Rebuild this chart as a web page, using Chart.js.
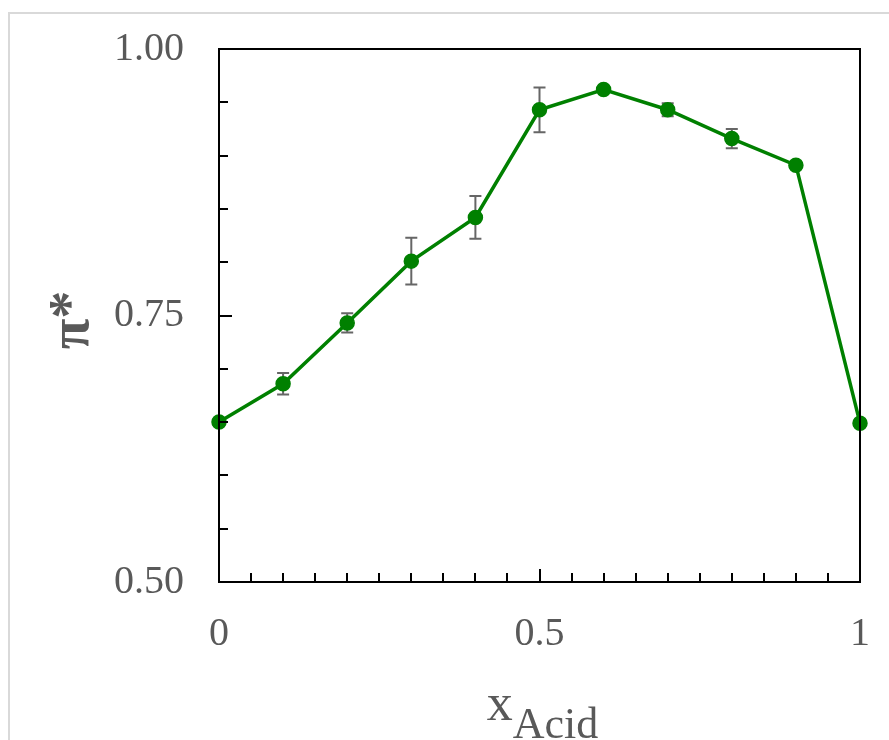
<!DOCTYPE html>
<html>
<head>
<meta charset="utf-8">
<title>pi* vs x Acid</title>
<script src="https://cdn.jsdelivr.net/npm/chart.js@4.4.0/dist/chart.umd.min.js"></script>
<style>
  html, body { margin: 0; padding: 0; background: #fff; }
  #wrap { position: relative; width: 889px; height: 740px; overflow: hidden; }
  #frame { position: absolute; left: 8px; top: 12px; width: 900px; height: 800px;
           border-left: 2px solid #d9d9d9; border-top: 2px solid #d9d9d9; }
  #chart { position: absolute; left: 0; top: 0; }
</style>
</head>
<body>
<div id="wrap">
  <div id="frame"></div>
  <canvas id="chart" width="889" height="740"></canvas>
</div>
<script>
// values
const xAcid     = [0, 0.1, 0.2, 0.3, 0.4, 0.5, 0.6, 0.7, 0.8, 0.9, 1.0];
const piStar    = [0.650, 0.686, 0.743, 0.801, 0.842, 0.943, 0.962, 0.943, 0.916, 0.891, 0.649];
const piStarErr = [0.002, 0.010, 0.009, 0.022, 0.020, 0.021, 0.002, 0.006, 0.009, 0.002, 0.003];

// axis ticks
const xTickValues = [0, 0.5, 1];
const yTickValues = [0.50, 0.75, 1.00];
const xMinorTicks = [0.05, 0.1, 0.15, 0.2, 0.25, 0.3, 0.35, 0.4, 0.45, 0.5,
                     0.55, 0.6, 0.65, 0.7, 0.75, 0.8, 0.85, 0.9, 0.95];
const yMinorTicks = [0.55, 0.6, 0.65, 0.7, 0.75, 0.8, 0.85, 0.9, 0.95];

const serif = "'Liberation Serif', 'Times New Roman', serif";
const textGrey = '#595959';

// error bars, drawn under the markers
const errorBars = {
    id: 'errorBars',
    beforeDatasetsDraw(chart) {
        const ctx = chart.ctx;
        const y = chart.scales.y;
        const meta = chart.getDatasetMeta(0);
        ctx.save();
        ctx.strokeStyle = '#666666';
        ctx.lineWidth = 2;
        meta.data.forEach((pt, i) => {
            const top = y.getPixelForValue(piStar[i] + piStarErr[i]);
            const bot = y.getPixelForValue(piStar[i] - piStarErr[i]);
            ctx.beginPath();
            ctx.moveTo(pt.x, top); ctx.lineTo(pt.x, bot);
            ctx.moveTo(pt.x - 6, top); ctx.lineTo(pt.x + 6, top);
            ctx.moveTo(pt.x - 6, bot); ctx.lineTo(pt.x + 6, bot);
            ctx.stroke();
        });
        ctx.restore();
    }
};

// box frame, inside ticks and axis titles
const frameAndTitles = {
    id: 'frameAndTitles',
    afterDraw(chart) {
        const ctx = chart.ctx;
        const a = chart.chartArea;
        const xs = chart.scales.x, ys = chart.scales.y;
        ctx.save();
        ctx.strokeStyle = '#000';
        ctx.lineWidth = 2;
        ctx.strokeRect(a.left, a.top, a.right - a.left, a.bottom - a.top);

        ctx.beginPath();
        xMinorTicks.forEach(v => {
            const px = Math.round(xs.getPixelForValue(v));
            const len = xTickValues.includes(v) ? 13 : 9;
            ctx.moveTo(px, a.bottom); ctx.lineTo(px, a.bottom - len);
        });
        yMinorTicks.forEach(v => {
            const py = Math.round(ys.getPixelForValue(v));
            const len = yTickValues.includes(v) ? 13 : 9;
            ctx.moveTo(a.left, py); ctx.lineTo(a.left + len, py);
        });
        ctx.stroke();

        // x title with subscript
        ctx.fillStyle = textGrey;
        ctx.textBaseline = 'alphabetic';
        ctx.textAlign = 'left';
        ctx.font = '52px ' + serif;
        const main = 'x';
        const wMain = ctx.measureText(main).width;
        ctx.font = '44px ' + serif;
        const sub = 'Acid';
        const wSub = ctx.measureText(sub).width;
        const cx = (a.left + a.right) / 2 + 3;
        const x0 = cx - (wMain + wSub) / 2;
        ctx.font = '52px ' + serif;
        ctx.fillText(main, x0, 720);
        ctx.font = '44px ' + serif;
        ctx.fillText(sub, x0 + wMain, 738);

        // y title, rotated
        ctx.translate(88, 320);
        ctx.rotate(-Math.PI / 2);
        ctx.textAlign = 'center';
        ctx.font = 'bold 56px ' + serif;
        ctx.fillText('π*', 0, 0);
        ctx.restore();
    }
};

const points = xAcid.map((x, i) => ({ x: x, y: piStar[i] }));

new Chart(document.getElementById('chart'), {
    type: 'line',
    data: {
        datasets: [{
            label: 'π*',
            data: points,
            borderColor: '#008000',
            backgroundColor: '#008000',
            borderWidth: 3.5,
            pointRadius: 7,
            pointBorderWidth: 1.5,
            pointBackgroundColor: '#008000',
            pointBorderColor: '#008000',
            tension: 0,
            clip: false
        }]
    },
    options: {
        responsive: false,
        animation: false,
        devicePixelRatio: 1,
        layout: { autoPadding: false, padding: { left: 0, top: 49, right: 29, bottom: 0 } },
        plugins: {
            legend: { display: false },
            tooltip: { enabled: false }
        },
        scales: {
            x: {
                type: 'linear',
                min: 0,
                max: 1,
                afterFit(scale) {
                    scale.height = 158;
                    scale.paddingLeft = 0;
                    scale.paddingRight = 0;
                },
                afterBuildTicks(scale) { scale.ticks = xTickValues.map(v => ({ value: v })); },
                grid: { display: false, drawTicks: false },
                border: { display: true, color: '#000', width: 2 },
                ticks: {
                    padding: 28,
                    color: textGrey,
                    font: { family: serif, size: 40 },
                    maxRotation: 0,
                    callback: v => String(v)
                }
            },
            y: {
                min: 0.5,
                max: 1.0,
                afterFit(scale) {
                    scale.width = 219;
                    scale.paddingTop = 0;
                    scale.paddingBottom = 0;
                },
                afterBuildTicks(scale) { scale.ticks = yTickValues.map(v => ({ value: v })); },
                grid: { display: false, drawTicks: false },
                border: { display: true, color: '#000', width: 2 },
                ticks: {
                    padding: 35,
                    color: textGrey,
                    font: { family: serif, size: 40 },
                    callback: v => Number(v).toFixed(2)
                }
            }
        }
    },
    plugins: [errorBars, frameAndTitles]
});
</script>
</body>
</html>
